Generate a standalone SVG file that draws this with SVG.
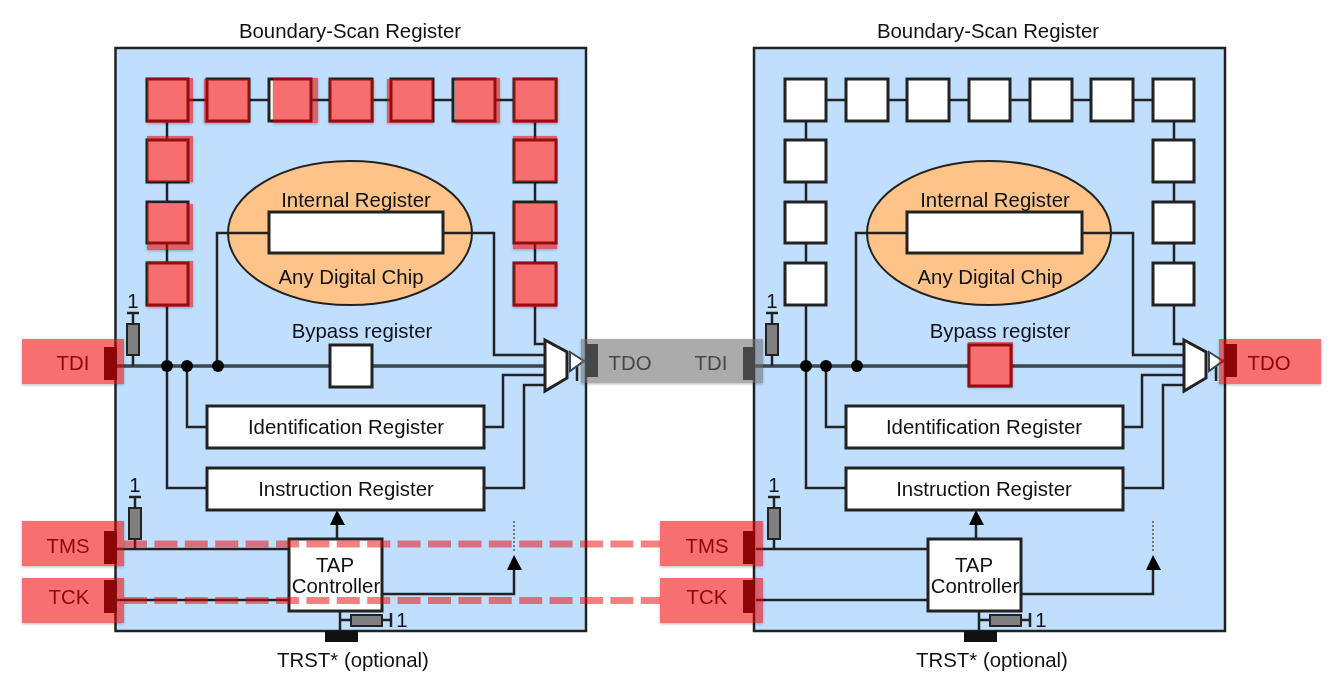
<svg xmlns="http://www.w3.org/2000/svg" width="1337" height="700" viewBox="0 0 1337 700">
<style>
text{font-family:"Liberation Sans",Arial,sans-serif;font-size:20.4px;fill:#101018;text-anchor:middle}
.chip{fill:#c0dfff;stroke:#222;stroke-width:2.5}
.box{fill:#fff;stroke:#222;stroke-width:3}
.w{fill:none;stroke:#222;stroke-width:2.5}
.bus{fill:none;stroke:#3a4650;stroke-width:3.5}
.res{fill:#808080;stroke:#222;stroke-width:2}
.ell{fill:#fec388;stroke:#222;stroke-width:2}
.dot{fill:#000}
.pin{fill:#111}
.hl{fill:#f00000;opacity:.56;filter:url(#s)}
.gr{fill:#6e6e6e;opacity:.58;filter:url(#s)}
.dash{fill:none;stroke:#f00000;opacity:.5;stroke-width:7;stroke-dasharray:23 7.4}
</style>
<defs>
<filter id="s" x="-20%" y="-20%" width="140%" height="140%" color-interpolation-filters="sRGB"><feDropShadow dx="0" dy="1" stdDeviation="1.5" flood-opacity=".5"/></filter>
<filter id="b" x="0" y="0" width="100%" height="100%" filterUnits="userSpaceOnUse" color-interpolation-filters="sRGB"><feGaussianBlur stdDeviation=".5"/></filter>
</defs>
<rect width="1337" height="700" fill="#fff"/>
<g filter="url(#b)">
<g id="chip-left">
<text x="350" y="38">Boundary-Scan Register</text>
<rect class="chip" x="115.5" y="48" width="470.5" height="583"/>
<ellipse class="ell" cx="350" cy="233" rx="122" ry="72"/>
</g>
<g id="chip-right">
<text x="988" y="38">Boundary-Scan Register</text>
<rect class="chip" x="754" y="48" width="471" height="583"/>
<ellipse class="ell" cx="989" cy="233" rx="122" ry="72"/>
</g>

<g id="connectors">
<path class="w" d="M188 100H207M249 100H269M311 100H330M372 100H391M433 100H452M494 100H514M167 121V140M167 182V202M167 243V263M535 121V140M535 182V202M535 243V263"/>
<path class="w" d="M167 305V488H207M187 366V427H207M217 366V233H269M443 233H494V355H545M535 305V344H545M484 427H503V375H545M484 488H524V385H545"/>
<path class="bus" d="M117 366H330M372 366H545"/>
<path class="w" d="M133 313V324M133 355V366M127 313H139M135 497V508M135 539V549M129 497H141M117 549H289M117 600H289M337 539V522M382 594H514V568M340 611V631M340 620H351M382 620H391M391 613V627"/>
<path d="M514 521V551" fill="none" stroke="#777" stroke-width="2" stroke-dasharray="2 2"/>
<path d="M330 525L337 510L345 525ZM507 570L514 555L522 570Z" fill="#000"/>
<path class="w" d="M582 361H586M577 366V381"/>
<circle class="dot" cx="167" cy="366" r="6"/><circle class="dot" cx="187" cy="366" r="6"/><circle class="dot" cx="218" cy="366" r="6"/>
<path class="w" d="M826 100H846M888 100H907M949 100H969M1010 100H1030M1072 100H1091M1133 100H1153M806 121V140M806 182V202M806 243V263M1174 121V140M1174 182V202M1174 243V263"/>
<path class="w" d="M806 305V488H846M826 366V427H846M856 366V233H907M1082 233H1133V355H1184M1174 305V344H1184M1123 427H1142V375H1184M1123 488H1163V385H1184"/>
<path class="bus" d="M755 366H969M1011 366H1184"/>
<path class="w" d="M772 313V324M772 355V366M766 313H778M774 497V508M774 539V549M768 497H780M756 549H928M756 600H928M976 539V522M1021 594H1153V568M979 611V631M979 620H990M1021 620H1030M1030 613V627"/>
<path d="M1153 521V551" fill="none" stroke="#777" stroke-width="2" stroke-dasharray="2 2"/>
<path d="M969 525L976 510L984 525ZM1146 570L1153 555L1161 570Z" fill="#000"/>
<path class="w" d="M1221 361H1225M1216 366V381"/>
<circle class="dot" cx="806" cy="366" r="6"/><circle class="dot" cx="826" cy="366" r="6"/><circle class="dot" cx="857" cy="366" r="6"/>
</g>

<g id="left-cells">
<rect id="l-c1" class="box" x="147" y="79" width="41" height="42"/>
<rect id="l-c2" class="box" x="207" y="79" width="42" height="42"/>
<rect id="l-c3" class="box" x="269" y="79" width="42" height="42"/>
<rect id="l-c4" class="box" x="330" y="79" width="42" height="42"/>
<rect id="l-c5" class="box" x="391" y="79" width="42" height="42"/>
<rect id="l-c6" class="box" x="453" y="79" width="42" height="42"/>
<rect id="l-c7" class="box" x="514" y="79" width="42" height="42"/>
<rect id="l-c8" class="box" x="147" y="140" width="41" height="42"/>
<rect id="l-c9" class="box" x="147" y="202" width="41" height="41"/>
<rect id="l-c10" class="box" x="147" y="263" width="41" height="42"/>
<rect id="l-c11" class="box" x="514" y="140" width="42" height="42"/>
<rect id="l-c12" class="box" x="514" y="202" width="42" height="41"/>
<rect id="l-c13" class="box" x="514" y="263" width="42" height="42"/>
</g>
<g id="right-cells">
<rect id="r-c1" class="box" x="785" y="79" width="41" height="42"/>
<rect id="r-c2" class="box" x="846" y="79" width="42" height="42"/>
<rect id="r-c3" class="box" x="907" y="79" width="42" height="42"/>
<rect id="r-c4" class="box" x="969" y="79" width="41" height="42"/>
<rect id="r-c5" class="box" x="1030" y="79" width="42" height="42"/>
<rect id="r-c6" class="box" x="1091" y="79" width="42" height="42"/>
<rect id="r-c7" class="box" x="1153" y="79" width="41" height="42"/>
<rect id="r-c8" class="box" x="785" y="140" width="41" height="42"/>
<rect id="r-c9" class="box" x="785" y="202" width="41" height="41"/>
<rect id="r-c10" class="box" x="785" y="263" width="41" height="42"/>
<rect id="r-c11" class="box" x="1153" y="140" width="41" height="42"/>
<rect id="r-c12" class="box" x="1153" y="202" width="41" height="41"/>
<rect id="r-c13" class="box" x="1153" y="263" width="41" height="42"/>
</g>

<g id="left-internal"><text x="356" y="207">Internal Register</text><rect class="box" x="269" y="212" width="174" height="41"/><text x="351" y="284">Any Digital Chip</text></g>
<g id="right-internal"><text x="995" y="207">Internal Register</text><rect class="box" x="907" y="212" width="175" height="41"/><text x="990" y="284">Any Digital Chip</text></g>

<g id="left-bypass"><text x="362" y="338">Bypass register</text><rect class="box" x="330" y="345" width="42" height="42"/></g>
<g id="right-bypass"><text x="1000" y="338">Bypass register</text><rect class="box" x="969" y="345" width="42" height="41"/></g>
<g id="left-id"><rect class="box" x="207" y="406" width="277" height="42"/><text x="346" y="434">Identification Register</text></g>
<g id="right-id"><rect class="box" x="846" y="406" width="277" height="42"/><text x="984" y="434">Identification Register</text></g>
<g id="left-ir"><rect class="box" x="207" y="468" width="277" height="42"/><text x="346" y="496">Instruction Register</text></g>
<g id="right-ir"><rect class="box" x="846" y="468" width="277" height="42"/><text x="984" y="496">Instruction Register</text></g>
<g id="left-tap"><rect class="box" x="289" y="539" width="93" height="72"/><text x="335" y="572">TAP</text><text x="336" y="593">Controller</text></g>
<g id="right-tap"><rect class="box" x="928" y="539" width="93" height="72"/><text x="974" y="572">TAP</text><text x="975" y="593">Controller</text></g>

<g id="left-mux"><path class="box" d="M545 340L567 352V378L545 391Z"/><path d="M570 352L584 361L570 371Z" fill="#fff" stroke="#3a4650" stroke-width="2"/></g>
<g id="right-mux"><path class="box" d="M1184 340L1206 352V378L1184 391Z"/><path d="M1209 352L1223 361L1209 371Z" fill="#fff" stroke="#3a4650" stroke-width="2"/></g>

<g id="left-resistors">
<rect class="res" x="127" y="324" width="12" height="31"/><text x="133" y="308">1</text>
<rect class="res" x="129" y="508" width="12" height="31"/><text x="135" y="492">1</text>
<rect class="res" x="351" y="615" width="31" height="11"/><text x="402" y="627">1</text>
</g>
<g id="right-resistors">
<rect class="res" x="766" y="324" width="12" height="31"/><text x="772" y="308">1</text>
<rect class="res" x="768" y="508" width="12" height="31"/><text x="774" y="492">1</text>
<rect class="res" x="990" y="615" width="31" height="11"/><text x="1041" y="627">1</text>
</g>

<g id="left-pins">
<rect class="pin" x="104" y="347" width="13" height="33"/>
<rect class="pin" x="104" y="531" width="13" height="33"/>
<rect class="pin" x="104" y="580" width="13" height="33"/>
<rect class="pin" x="586" y="344" width="12" height="33"/>
<rect class="pin" x="325" y="631" width="33" height="11"/>
<text x="353" y="667">TRST* (optional)</text>
</g>
<g id="right-pins">
<rect class="pin" x="743" y="347" width="12" height="33"/>
<rect class="pin" x="743" y="531" width="12" height="33"/>
<rect class="pin" x="743" y="580" width="12" height="33"/>
<rect class="pin" x="1225" y="344" width="12" height="33"/>
<rect class="pin" x="964" y="631" width="33" height="11"/>
<text x="992" y="667">TRST* (optional)</text>
</g>

<g id="port-labels">
<text x="73" y="370">TDI</text><text x="68" y="553">TMS</text><text x="69" y="604">TCK</text>
<text x="630" y="370">TDO</text><text x="711" y="370">TDI</text>
<text x="707" y="553">TMS</text><text x="707" y="604">TCK</text><text x="1269" y="370">TDO</text>
</g>

<g id="highlights">
<rect class="hl" x="147" y="78" width="46" height="45"/>
<rect class="hl" x="204" y="79" width="46" height="44"/>
<rect class="hl" x="273" y="78" width="45" height="45"/>
<rect class="hl" x="329" y="79" width="45" height="44"/>
<rect class="hl" x="387" y="79" width="46" height="44"/>
<rect class="hl" x="455" y="78" width="45" height="45"/>
<rect class="hl" x="513" y="78" width="45" height="45"/>
<rect class="hl" x="147" y="136" width="46" height="46"/>
<rect class="hl" x="147" y="204" width="46" height="46"/>
<rect class="hl" x="147" y="261" width="46" height="46"/>
<rect class="hl" x="513" y="136" width="44" height="46"/>
<rect class="hl" x="513" y="203" width="44" height="46"/>
<rect class="hl" x="513" y="262" width="44" height="45"/>
<rect class="hl" x="968" y="342" width="45" height="45"/>
<rect class="gr" x="581" y="339" width="182" height="44"/>
<rect class="hl" x="22" y="339" width="102" height="45"/>
<rect class="hl" x="22" y="521" width="102" height="45"/>
<rect class="hl" x="22" y="578" width="102" height="45"/>
<rect class="hl" x="660" y="521" width="103" height="45"/>
<rect class="hl" x="660" y="578" width="103" height="45"/>
<rect class="hl" x="1219" y="339" width="102" height="45"/>
<path class="dash" d="M124 544H660M124 600.5H660"/>
</g>
</g>
</svg>
